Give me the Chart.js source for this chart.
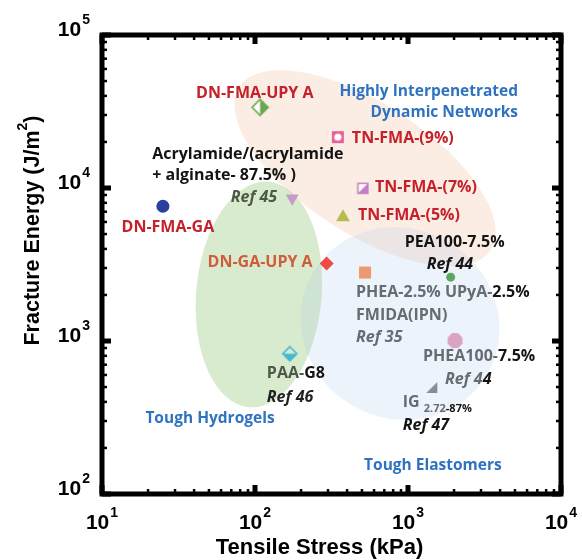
<!DOCTYPE html>
<html>
<head>
<meta charset="utf-8">
<script src="https://cdn.jsdelivr.net/npm/chart.js@4.4.0/dist/chart.umd.min.js"></script>
<style>
  html, body { margin: 0; padding: 0; background: #fff; }
  #wrap { width: 582px; height: 560px; }
</style>
</head>
<body>
<div id="wrap"><canvas id="chart"></canvas></div>
<script>
// values (x: kPa, y: J/m2)
var materials = ['DN-FMA-GA', 'DN-FMA-UPY A', 'Acrylamide/(acrylamide + alginate- 87.5% )', 'TN-FMA-(9%)',
    'TN-FMA-(7%)', 'TN-FMA-(5%)', 'DN-GA-UPY A', 'PHEA-2.5% UPyA-2.5% FMIDA(IPN)', 'PEA100-7.5%',
    'PHEA100-7.5%', 'IG 2.72-87%', 'PAA-G8'];
var tensileStress = [25, 108, 175, 348, 508, 376, 294, 524, 1900, 2030, 1430, 169];
var fractureEnergy = [7600, 33700, 8570, 21500, 9960, 6430, 3210, 2800, 2615, 1006, 497, 826];
var xTicks = [10, 100, 1000, 10000];
var yTicks = [100, 1000, 10000, 100000];

var RED = '#c4212b';
var ORANGE_RED = '#d05c3c';
var BLUE = '#2f73c0';
var BLACK = '#141414';
var GRAY = '#676b72';
var OLIVE = '#4d5946';

// small canvases for the marker shapes chart.js has no style for
function marker(size, draw) {
    var c = document.createElement('canvas');
    c.width = size; c.height = size;
    draw(c.getContext('2d'), size / 2);
    return c;
}
var halfDiamondGreen = marker(19, function (g, c) {
    var r = 8;
    g.beginPath(); g.moveTo(c, c - r); g.lineTo(c + r, c); g.lineTo(c, c + r); g.lineTo(c - r, c); g.closePath();
    g.fillStyle = '#fff'; g.fill();
    g.beginPath(); g.moveTo(c, c - r); g.lineTo(c + r, c); g.lineTo(c, c + r); g.closePath();
    g.fillStyle = '#6aa84f'; g.fill();
    g.beginPath(); g.moveTo(c, c - r); g.lineTo(c + r, c); g.lineTo(c, c + r); g.lineTo(c - r, c); g.closePath();
    g.strokeStyle = '#6aa84f'; g.lineWidth = 1.6; g.stroke();
});
var halfDiamondCyan = marker(17, function (g, c) {
    var r = 7;
    g.beginPath(); g.moveTo(c - r, c); g.lineTo(c + r, c); g.lineTo(c, c + r); g.closePath();
    g.fillStyle = '#45b8cf'; g.fill();
    g.beginPath(); g.moveTo(c, c - r); g.lineTo(c + r, c); g.lineTo(c, c + r); g.lineTo(c - r, c); g.closePath();
    g.strokeStyle = '#45b8cf'; g.lineWidth = 1.6; g.stroke();
});
var squareRing = marker(14, function (g, c) {
    g.fillStyle = '#e8609c'; g.fillRect(1, 1, 12, 12);
    g.beginPath(); g.arc(c, c, 3.6, 0, Math.PI * 2); g.fillStyle = '#fff'; g.fill();
});
var halfSquare = marker(13, function (g, c) {
    g.fillStyle = '#fff'; g.fillRect(1, 1, 11, 11);
    g.beginPath(); g.moveTo(12, 1); g.lineTo(12, 12); g.lineTo(1, 12); g.closePath();
    g.fillStyle = '#c47cc4'; g.fill();
    g.strokeStyle = '#c47cc4'; g.lineWidth = 1.5; g.strokeRect(1.5, 1.5, 10, 10);
});
var cornerTriangle = marker(13, function (g, c) {
    g.beginPath(); g.moveTo(12, 1); g.lineTo(12, 12); g.lineTo(1, 12); g.closePath();
    g.fillStyle = '#878c97'; g.fill();
});
var octagon = marker(17, function (g, c) {
    g.beginPath();
    for (var i = 0; i < 8; i++) {
        var a = Math.PI / 8 + i * Math.PI / 4;
        g.lineTo(c + 8 * Math.cos(a), c + 8 * Math.sin(a));
    }
    g.closePath(); g.fillStyle = '#dca2c4'; g.fill();
});

var pointStyles = ['circle', halfDiamondGreen, 'triangle', squareRing, halfSquare, 'triangle', 'rectRot', 'rect',
    'circle', octagon, cornerTriangle, halfDiamondCyan];
var pointColors = ['#2b3f9e', '#6aa84f', '#c89ac8', '#e8609c', '#c47cc4', '#b5bd4e', '#ee4a46', '#eb9a72',
    '#5aa860', '#dca2c4', '#878c97', '#45b8cf'];
var pointRadius = [6.5, 8, 7.5, 7, 7, 8, 7, 8.5, 4.5, 8, 7, 7];
var pointRotation = [0, 0, 180, 0, 0, 0, 0, 0, 0, 0, 0, 0];

// shaded groups: centre in data units, half axes in decades, tilt in degrees
var regions = [
    { x: 524, y: 13460, rx: 0.98, ry: 0.425, tilt: 33, fill: 'rgba(245,200,170,0.32)' },
    { x: 106, y: 2015, rx: 0.41, ry: 0.74, tilt: 5, fill: 'rgba(150,200,120,0.36)' },
    { x: 887, y: 1300, rx: 0.66, ry: 0.62, tilt: 30, fill: 'rgba(170,200,235,0.21)' }
];
var regionNames = [
    { lines: ['Highly Interpenetrated', 'Dynamic Networks'], x: 5240, y: 42400, align: 'right' },
    { lines: ['Tough Hydrogels'], x: 50.8, y: 310, align: 'center' },
    { lines: ['Tough Elastomers'], x: 1455, y: 153, align: 'center' }
];

// text next to each point (offsets in px from the point)
var pointNotes = [
    [{ dx: 5, dy: 21, align: 'center', runs: [{ t: 'DN-FMA-GA', c: RED }] }],
    [{ dx: -64, dy: -14, runs: [{ t: 'DN-FMA-UPY A', c: RED }] }],
    [{ dx: -140, dy: -44, runs: [{ t: 'Acrylamide/(acrylamide', c: BLACK }] },
     { dx: -140, dy: -23, runs: [{ t: '+ alginate- 87.5% )', c: BLACK }] },
     { dx: -15, dy: -1, align: 'right', runs: [{ t: 'Ref 45', c: OLIVE, i: true }] }],
    [{ dx: 14, dy: 1, runs: [{ t: 'TN-FMA-(9%)', c: RED }] }],
    [{ dx: 12, dy: -1, runs: [{ t: 'TN-FMA-(7%)', c: RED }] }],
    [{ dx: 15, dy: -2, runs: [{ t: 'TN-FMA-(5%)', c: RED }] }],
    [{ dx: -14, dy: -1, align: 'right', runs: [{ t: 'DN-GA-UPY A', c: ORANGE_RED }] }],
    [{ dx: -9, dy: 20, runs: [{ t: 'PHEA-2.5% UPyA-', c: GRAY }, { t: '2.5%', c: BLACK }] },
     { dx: -9, dy: 43, runs: [{ t: 'FMIDA(IPN)', c: GRAY }] },
     { dx: -9, dy: 65, runs: [{ t: 'Ref 35', c: GRAY, i: true }] }],
    [{ dx: -46, dy: -35, runs: [{ t: 'PEA100-7.5%', c: BLACK }] },
     { dx: -24, dy: -13, runs: [{ t: 'Ref 44', c: BLACK, i: true }] }],
    [{ dx: -32, dy: 16, runs: [{ t: 'PHEA100-', c: GRAY }, { t: '7.5%', c: BLACK }] },
     { dx: -10, dy: 39, runs: [{ t: 'Ref 4', c: GRAY, i: true }, { t: '4', c: BLACK, i: true }] }],
    [{ dx: -29, dy: 15, runs: [{ t: 'IG ', c: GRAY }, { t: '2.72', c: GRAY, s: 11, dy: 6 }, { t: '-87%', c: BLACK, s: 11, dy: 6 }] },
     { dx: -29, dy: 38, runs: [{ t: 'Ref 47', c: BLACK, i: true }] }],
    [{ dx: -23, dy: 20, runs: [{ t: 'PAA-', c: OLIVE }, { t: 'G8', c: BLACK }] },
     { dx: -23, dy: 44, runs: [{ t: 'Ref 46', c: '#222', i: true }] }]
];

function runFont(r) {
    return (r.i ? 'italic ' : '') + 'bold ' + (r.s || 16) + 'px "Open Sans", sans-serif';
}

function drawRuns(ctx, runs, x, y, align) {
    var w = 0;
    runs.forEach(function (r) { ctx.font = runFont(r); w += ctx.measureText(r.t).width; });
    var cx = align === 'right' ? x - w : (align === 'center' ? x - w / 2 : x);
    runs.forEach(function (r) {
        ctx.font = runFont(r);
        ctx.fillStyle = r.c;
        ctx.fillText(r.t, cx, y + (r.dy || 0));
        cx += ctx.measureText(r.t).width;
    });
}

var regionPlugin = {
    id: 'regions',
    beforeDatasetsDraw: function (chart) {
        var ctx = chart.ctx, xs = chart.scales.x, ys = chart.scales.y;
        var perDecX = xs.getPixelForValue(100) - xs.getPixelForValue(10);
        var perDecY = ys.getPixelForValue(100) - ys.getPixelForValue(1000);
        ctx.save();
        regions.forEach(function (r) {
            ctx.beginPath();
            ctx.ellipse(xs.getPixelForValue(r.x), ys.getPixelForValue(r.y), r.rx * perDecX, r.ry * perDecY,
                r.tilt * Math.PI / 180, 0, Math.PI * 2);
            ctx.fillStyle = r.fill;
            ctx.fill();
        });
        ctx.textBaseline = 'middle';
        regionNames.forEach(function (n) {
            var px = xs.getPixelForValue(n.x), py = ys.getPixelForValue(n.y);
            n.lines.forEach(function (line, k) {
                drawRuns(ctx, [{ t: line, c: BLUE, s: 15.5 }], px, py + k * 21, n.align);
            });
        });
        ctx.restore();
    }
};

var framePlugin = {
    id: 'frame',
    afterDraw: function (chart) {
        var ctx = chart.ctx, a = chart.chartArea, xs = chart.scales.x, ys = chart.scales.y;
        ctx.save();
        ctx.textBaseline = 'middle';
        // labels beside the points
        pointNotes.forEach(function (notes, i) {
            var px = xs.getPixelForValue(tensileStress[i]), py = ys.getPixelForValue(fractureEnergy[i]);
            notes.forEach(function (n) {
                drawRuns(ctx, n.runs, px + n.dx, py + n.dy, n.align || 'left');
            });
        });

        // box
        ctx.strokeStyle = '#000';
        ctx.lineWidth = 5;
        ctx.strokeRect(a.left, a.top, a.right - a.left, a.bottom - a.top);

        // inward ticks on all four sides
        ctx.fillStyle = '#000';
        function xTick(v, len, w) {
            var p = xs.getPixelForValue(v);
            ctx.fillRect(p - w / 2, a.bottom - len, w, len);
            ctx.fillRect(p - w / 2, a.top, w, len);
        }
        function yTick(v, len, w) {
            var p = ys.getPixelForValue(v);
            ctx.fillRect(a.left, p - w / 2, len, w);
            ctx.fillRect(a.right - len, p - w / 2, len, w);
        }
        xTicks.forEach(function (d, k) {
            xTick(d, 9, 5);
            if (k < xTicks.length - 1) for (var m = 2; m < 10; m++) xTick(d * m, 5, 2.5);
        });
        yTicks.forEach(function (d, k) {
            yTick(d, 9, 5);
            if (k < yTicks.length - 1) for (var m = 2; m < 10; m++) yTick(d * m, 5, 2.5);
        });

        // tick labels 10^n
        function power(v, x, y, align) {
            var e = String(Math.round(Math.log10(v)));
            ctx.font = 'bold 21px "Liberation Sans", Arial, sans-serif';
            var w1 = ctx.measureText('10').width;
            ctx.font = 'bold 14px "Liberation Sans", Arial, sans-serif';
            var w2 = ctx.measureText(e).width;
            var left = align === 'right' ? x - w1 - w2 - 1 : x - (w1 + w2 + 1) / 2;
            ctx.fillStyle = '#000';
            ctx.font = 'bold 21px "Liberation Sans", Arial, sans-serif';
            ctx.fillText('10', left, y);
            ctx.font = 'bold 14px "Liberation Sans", Arial, sans-serif';
            ctx.fillText(e, left + w1 + 1, y - 10);
        }
        ctx.textAlign = 'left';
        xTicks.forEach(function (v) { power(v, xs.getPixelForValue(v), a.bottom + 29, 'center'); });
        yTicks.forEach(function (v) { power(v, a.left - 12, ys.getPixelForValue(v) - 5, 'right'); });

        // axis titles
        ctx.font = 'bold 22px "Liberation Sans", Arial, sans-serif';
        ctx.fillStyle = '#000';
        ctx.textAlign = 'center';
        ctx.fillText('Tensile Stress (kPa)', (a.left + a.right) / 2 - 12, a.bottom + 54);

        ctx.translate(33, (a.top + a.bottom) / 2 - 34);
        ctx.rotate(-Math.PI / 2);
        ctx.textAlign = 'left';
        var t1 = 'Fracture Energy (J/m', t3 = ')';
        ctx.font = 'bold 21.5px "Liberation Sans", Arial, sans-serif';
        var w1 = ctx.measureText(t1).width, w3 = ctx.measureText(t3).width;
        ctx.font = 'bold 14px "Liberation Sans", Arial, sans-serif';
        var w2 = ctx.measureText('2').width;
        var sx = -(w1 + w2 + w3) / 2;
        ctx.font = 'bold 21.5px "Liberation Sans", Arial, sans-serif';
        ctx.fillText(t1, sx, 0);
        ctx.fillText(t3, sx + w1 + w2, 0);
        ctx.font = 'bold 14px "Liberation Sans", Arial, sans-serif';
        ctx.fillText('2', sx + w1, -10);
        ctx.restore();
    }
};

new Chart(document.getElementById('chart'), {
    type: 'scatter',
    data: {
        labels: materials,
        datasets: [{
            label: 'Fracture energy vs tensile stress',
            data: tensileStress.map(function (x, i) { return { x: x, y: fractureEnergy[i] }; }),
            pointStyle: pointStyles,
            backgroundColor: pointColors,
            borderColor: pointColors,
            borderWidth: 0,
            pointRadius: pointRadius,
            rotation: pointRotation
        }]
    },
    options: {
        responsive: true,
        maintainAspectRatio: false,
        animation: false,
        events: [],
        layout: { padding: { left: 102, right: 21, top: 35, bottom: 66 } },
        plugins: { legend: { display: false }, tooltip: { enabled: false } },
        scales: {
            x: { type: 'logarithmic', min: 10, max: 10000, display: false },
            y: { type: 'logarithmic', min: 100, max: 100000, display: false }
        }
    },
    plugins: [regionPlugin, framePlugin]
});
</script>
</body>
</html>
